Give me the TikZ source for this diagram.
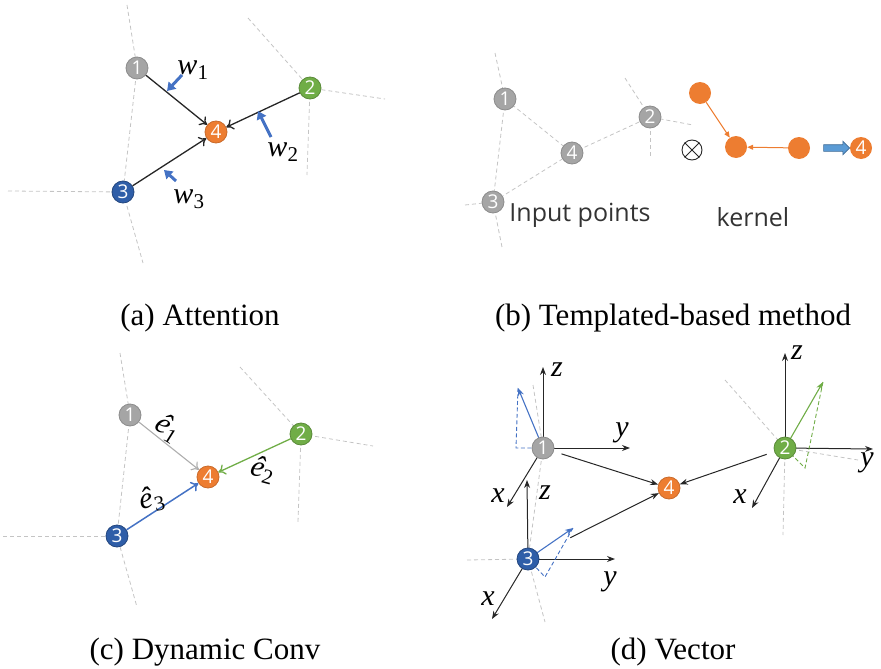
\documentclass[tikz,border=0pt]{standalone}
\usepackage{fontspec}
\setmainfont{Liberation Serif}
\newfontfamily\digfont{Open Sans}
\usetikzlibrary{arrows.meta,shapes.arrows,backgrounds}
\definecolor{cgray}{HTML}{A5A5A5}
\definecolor{cgreen}{HTML}{70AD47}
\definecolor{corange}{HTML}{ED7D31}
\definecolor{cblue}{HTML}{2F5EA8}
\definecolor{lblue}{HTML}{4472C4}
\definecolor{dgray}{HTML}{C4C4C4}
\definecolor{bblue}{HTML}{5B9BD5}
\tikzset{
  pnode/.style={circle,minimum size=22pt,inner sep=0pt,text=white,line width=0.8pt,
    font=\digfont\fontsize{19}{19}\selectfont},
  gn/.style={pnode,fill=cgray,draw=cgray!85!black},
  grn/.style={pnode,fill=cgreen,draw=cgreen!80!black},
  orn/.style={pnode,fill=corange,draw=corange!85!black},
  bln/.style={pnode,fill=cblue,draw=cblue!75!black},
  knode/.style={circle,minimum size=22pt,inner sep=0pt,fill=corange},
  vor/.style={dash pattern=on 4pt off 3pt, draw=dgray, line width=0.8pt},
  attn/.style={-{To[length=7pt,width=11pt]}, line width=1.3pt, draw=black!85},
  wt/.style={-{Triangle[length=8pt,width=10pt]}, line width=3pt, draw=lblue},
  ax/.style={-{Stealth[length=8pt,width=6pt]}, line width=1pt, draw=black!85},
  mlab/.style={font=\fontsize{30}{30}\selectfont\itshape, inner sep=0pt},
  captxt/.style={font=\fontsize{31}{31}\selectfont, inner sep=0pt},
  sflab/.style={font=\digfont\fontsize{25}{25}\selectfont, text=black!80, inner sep=0pt},
}
\begin{document}
\begin{tikzpicture}[x=1pt,y=-1pt]
\useasboundingbox (0,0) rectangle (881,669);

% ---------------- (a) Attention
\node[gn]  (a1) at (137,68)  {1};
\node[grn] (a2) at (310,88)  {2};
\node[orn] (a4) at (216,132) {4};
\node[bln] (a3) at (123,192) {3};
\begin{scope}[on background layer]
\draw[vor] (127,5) -- (a1.center) -- (a3.center) -- (143,263);
\draw[vor] (8,191) -- (a3.center);
\draw[vor] (248,18) -- (a2.center) -- (385,99);
\draw[vor] (a2.center) -- (307,175);
\end{scope}
\draw[attn] (a1) -- (a4);
\draw[attn] (a2) -- (a4);
\draw[attn] (a3) -- (a4);
\coordinate (w1s) at (182,75);  \coordinate (w1e) at (167,91);
\coordinate (w2s) at (271,137); \coordinate (w2e) at (258,111);
\coordinate (w3s) at (176,181); \coordinate (w3e) at (164,170);
\draw[wt] (w1s) -- (w1e);
\draw[wt] (w2s) -- (w2e);
\draw[wt] (w3s) -- (w3e);
\node[mlab] (lw1) at (193,70)  {w\textsubscript{\upshape 1}};
\node[mlab] (lw2) at (283,152) {w\textsubscript{\upshape 2}};
\node[mlab] (lw3) at (189,199) {w\textsubscript{\upshape 3}};
\node[captxt] (capa) at (200,318) {(a) Attention};

% ---------------- (b) Templated-based
\node[gn] (b1) at (505,99)  {1};
\node[gn] (b2) at (650,117) {2};
\node[gn] (b4) at (572,153) {4};
\node[gn] (b3) at (493,202) {3};
\begin{scope}[on background layer]
\draw[vor] (495,53) -- (b1.center) -- (b4.center) -- (b2.center);
\draw[vor] (b1.center) -- (b3.center) -- (b4.center);
\draw[vor] (465,205) -- (b3.center) -- (502,247);
\draw[vor] (625,78) -- (b2.center) -- (693,125);
\draw[vor] (b2.center) -- (650,157);
\end{scope}
\node[circle,draw=black!85,line width=0.9pt,minimum size=20pt,inner sep=0pt] (ot) at (692,150) {};
\draw[black!85,line width=0.9pt] (ot.north west) -- (ot.south east) (ot.north east) -- (ot.south west);
\node[knode] (k1) at (700,93)  {};
\node[knode] (k2) at (736,147) {};
\node[knode] (k3) at (799,148) {};
\draw[corange,line width=1pt,-{Triangle[length=6pt,width=5pt]}] (k1) -- (k2);
\draw[corange,line width=1pt,-{Triangle[length=6pt,width=5pt]}] (k3) -- (k2);
\node[single arrow,fill=bblue,draw=bblue!70!black,line width=0.6pt,minimum height=26pt,
  single arrow head extend=3.5pt,inner sep=0pt] (ba) at (835,148) {\rule{0pt}{6pt}};
\node[orn,draw=none] (o4) at (861,148) {4};
\node[sflab] (inp) at (580,215) {Input points};
\node[sflab] (ker) at (753,217) {kernel};
\node[captxt] (capb) at (673,318) {(b) Templated-based method};

% ---------------- (c) Dynamic Conv
\node[gn]  (c1) at (130,415) {1};
\node[grn] (c2) at (301,434) {2};
\node[orn] (c4) at (208,477) {4};
\node[bln] (c3) at (117,536) {3};
\begin{scope}[on background layer]
\draw[vor] (120,353) -- (c1.center) -- (c3.center) -- (137,607);
\draw[vor] (3,536) -- (c3.center);
\draw[vor] (240,367) -- (c2.center) -- (373,446);
\draw[vor] (c2.center) -- (298,522);
\end{scope}
\draw[attn,draw=cgray!90!white,line width=1.1pt] (c1) -- (c4);
\draw[attn,draw=cgreen,line width=1.3pt] (c2) -- (c4);
\draw[attn,draw=lblue,line width=1.5pt] (c3) -- (c4);
\node[mlab,rotate=-32] (le1) at (168,428) {ê\textsubscript{\upshape 1}};
\node[mlab,rotate=-15] (le2) at (263,470) {ê\textsubscript{\upshape 2}};
\node[mlab,rotate=12]  (le3) at (152,499) {ê\textsubscript{\upshape 3}};
\node[captxt] (capc) at (205,652) {(c) Dynamic Conv};

% ---------------- (d) Vector
\node[gn]  (d1) at (543,448) {1};
\node[grn] (d2) at (785,448) {2};
\node[orn] (d4) at (669,488) {4};
\node[bln] (d3) at (528,559) {3};
\coordinate (d1z) at (543,367); \coordinate (d1y) at (630,448); \coordinate (d1x) at (507,507);
\coordinate (d3z) at (527,480); \coordinate (d3y) at (615,559); \coordinate (d3x) at (492,619);
\coordinate (d2z) at (785,353); \coordinate (d2y) at (873,449); \coordinate (d2x) at (752,508);
\coordinate (v1) at (518,388); \coordinate (v1p) at (516,448);
\coordinate (v3) at (573,528); \coordinate (v3p) at (545,577);
\coordinate (v2) at (823,382); \coordinate (v2p) at (805,468);
\begin{scope}[on background layer]
\draw[vor] (533,385) -- (d1.center) -- (d3.center) -- (545,622);
\draw[vor] (467,560) -- (d3.center);
\draw[vor] (725,380) -- (d2.center) -- (858,460);
\draw[vor] (d2.center) -- (783,535);
\draw[ax] (d1.center) -- (d1z);
\draw[ax] (d1.center) -- (d1y);
\draw[ax] (d1.center) -- (d1x);
\draw[ax] (d3.center) -- (d3z);
\draw[ax] (d3.center) -- (d3y);
\draw[ax] (d3.center) -- (d3x);
\draw[ax] (d2.center) -- (d2z);
\draw[ax] (d2.center) -- (d2y);
\draw[ax] (d2.center) -- (d2x);
\draw[lblue,line width=0.9pt,dash pattern=on 4pt off 2.5pt] (v1) -- (v1p) -- (d1.center);
\draw[lblue,line width=0.9pt,dash pattern=on 4pt off 2.5pt] (v3) -- (v3p) -- (d3.center);
\draw[cgreen,line width=0.9pt,dash pattern=on 4pt off 2.5pt] (v2) -- (v2p) -- (d2.center);
\draw[lblue,line width=1.1pt,-{Stealth[length=8pt,width=6pt]}] (d1.center) -- (v1);
\draw[lblue,line width=1.1pt,-{Stealth[length=8pt,width=6pt]}] (d3.center) -- (v3);
\draw[cgreen,line width=1.1pt,-{Stealth[length=8pt,width=6pt]}] (d2.center) -- (v2);
\end{scope}
\draw[ax,shorten <=8pt] (d1) -- (d4);
\draw[ax,shorten <=36pt] (d3) -- (d4);
\draw[ax,shorten <=8pt] (d2) -- (d4);
\node[mlab] (l1z) at (557,370) {z};
\node[mlab] (l1y) at (622,433) {y};
\node[mlab] (l1x) at (498,496) {x};
\node[mlab] (l3z) at (545,493) {z};
\node[mlab] (l3y) at (610,582) {y};
\node[mlab] (l3x) at (488,599) {x};
\node[mlab] (l2z) at (797,353) {z};
\node[mlab] (l2y) at (867,463) {y};
\node[mlab] (l2x) at (740,497) {x};
\node[captxt] (capd) at (673,652) {(d) Vector};
\end{tikzpicture}
\end{document}
